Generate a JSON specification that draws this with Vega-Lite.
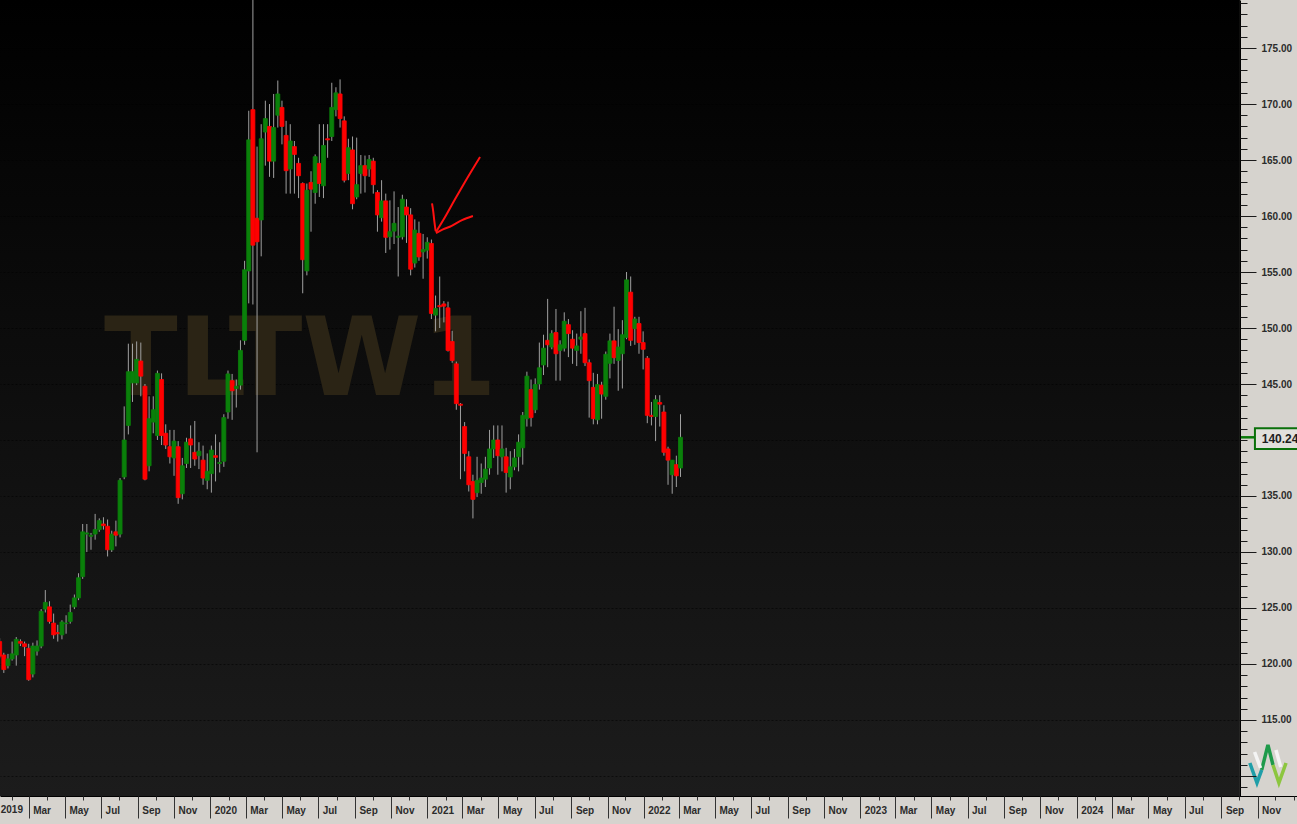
{
  "$schema": "https://vega.github.io/schema/vega-lite/v6.json",
  "width": 1297,
  "height": 796,
  "autosize": {"type": "none"},
  "padding": {"left": 0, "top": 0, "right": 0, "bottom": 28},
  "background": "#d6d3ce",
  "config": {
    "view": {"stroke": null, "fill": {"gradient": "linear", "x1": 0, "y1": 0, "x2": 0, "y2": 1, "stops": [{"offset": 0, "color": "#000000"}, {"offset": 1, "color": "#1c1c1c"}]}},
    "axis": {"labelFont": "Liberation Sans", "labelFontWeight": "bold", "labelColor": "#2b2b2b", "tickColor": "#222222", "domainColor": "#000000"},
    "scale": {"continuousPadding": 0}
  },
  "resolve": {"axis": {"x": "independent", "y": "independent"}},
  "data": {"values": [
    {"d":"2019-01-11","o":122.0,"h":122.3,"l":120.5,"c":120.7},
    {"d":"2019-01-18","o":120.8,"h":121.0,"l":119.2,"c":119.5},
    {"d":"2019-01-25","o":119.85,"h":120.9,"l":119.6,"c":120.45},
    {"d":"2019-02-01","o":120.45,"h":122.0,"l":120.3,"c":120.9},
    {"d":"2019-02-08","o":120.8,"h":122.4,"l":119.85,"c":122.2},
    {"d":"2019-02-15","o":122.0,"h":122.2,"l":121.6,"c":121.85},
    {"d":"2019-02-22","o":121.8,"h":122.0,"l":120.7,"c":121.55},
    {"d":"2019-03-01","o":121.4,"h":121.8,"l":118.5,"c":118.6},
    {"d":"2019-03-08","o":119.1,"h":121.9,"l":118.8,"c":121.6},
    {"d":"2019-03-15","o":121.15,"h":122.1,"l":120.75,"c":121.6},
    {"d":"2019-03-22","o":121.6,"h":124.9,"l":121.4,"c":124.7},
    {"d":"2019-03-29","o":124.9,"h":126.6,"l":124.6,"c":125.5},
    {"d":"2019-04-05","o":125.1,"h":125.6,"l":123.6,"c":123.8},
    {"d":"2019-04-12","o":123.65,"h":124.5,"l":122.25,"c":122.6},
    {"d":"2019-04-19","o":122.8,"h":123.5,"l":122.0,"c":122.7},
    {"d":"2019-04-26","o":122.6,"h":123.9,"l":122.2,"c":123.75},
    {"d":"2019-05-03","o":123.6,"h":124.35,"l":122.7,"c":123.65},
    {"d":"2019-05-10","o":123.8,"h":125.3,"l":123.6,"c":124.6},
    {"d":"2019-05-17","o":125.1,"h":126.2,"l":124.9,"c":125.9},
    {"d":"2019-05-24","o":125.9,"h":128.1,"l":125.7,"c":127.7},
    {"d":"2019-05-31","o":127.8,"h":132.5,"l":127.6,"c":131.8},
    {"d":"2019-06-07","o":131.6,"h":132.5,"l":130.0,"c":131.7},
    {"d":"2019-06-14","o":131.4,"h":131.7,"l":130.2,"c":131.5},
    {"d":"2019-06-21","o":131.6,"h":133.4,"l":131.1,"c":132.0},
    {"d":"2019-06-28","o":132.0,"h":133.0,"l":131.8,"c":132.8},
    {"d":"2019-07-05","o":132.5,"h":133.1,"l":132.0,"c":132.35},
    {"d":"2019-07-12","o":132.3,"h":132.9,"l":129.6,"c":130.2},
    {"d":"2019-07-19","o":130.2,"h":131.9,"l":130.0,"c":131.6},
    {"d":"2019-07-26","o":131.8,"h":132.8,"l":130.5,"c":131.5},
    {"d":"2019-08-02","o":131.6,"h":136.6,"l":131.3,"c":136.4},
    {"d":"2019-08-09","o":136.7,"h":143.0,"l":136.5,"c":140.0},
    {"d":"2019-08-16","o":141.3,"h":148.6,"l":140.5,"c":146.1},
    {"d":"2019-08-23","o":145.1,"h":148.6,"l":143.4,"c":146.1},
    {"d":"2019-08-30","o":145.1,"h":148.8,"l":144.9,"c":147.2},
    {"d":"2019-09-06","o":147.05,"h":148.7,"l":143.9,"c":145.7},
    {"d":"2019-09-13","o":144.8,"h":145.0,"l":136.4,"c":136.5},
    {"d":"2019-09-20","o":137.7,"h":143.9,"l":137.2,"c":141.9},
    {"d":"2019-09-27","o":141.6,"h":143.9,"l":140.6,"c":142.7},
    {"d":"2019-10-04","o":140.4,"h":146.2,"l":140.0,"c":145.95},
    {"d":"2019-10-11","o":145.4,"h":145.95,"l":139.55,"c":140.4},
    {"d":"2019-10-18","o":140.6,"h":141.4,"l":139.2,"c":139.55},
    {"d":"2019-10-25","o":139.4,"h":140.9,"l":137.9,"c":138.5},
    {"d":"2019-11-01","o":138.4,"h":140.9,"l":136.8,"c":139.9},
    {"d":"2019-11-08","o":139.4,"h":139.9,"l":134.3,"c":134.85},
    {"d":"2019-11-15","o":135.2,"h":138.4,"l":134.7,"c":137.7},
    {"d":"2019-11-22","o":137.9,"h":140.2,"l":137.5,"c":139.8},
    {"d":"2019-11-29","o":140.1,"h":141.3,"l":137.5,"c":139.55},
    {"d":"2019-12-06","o":138.9,"h":141.7,"l":137.7,"c":138.3},
    {"d":"2019-12-13","o":138.6,"h":139.8,"l":137.4,"c":139.0},
    {"d":"2019-12-20","o":138.2,"h":139.5,"l":136.0,"c":136.6},
    {"d":"2019-12-27","o":136.4,"h":138.8,"l":135.6,"c":137.2},
    {"d":"2020-01-03","o":137.0,"h":139.5,"l":135.3,"c":139.1},
    {"d":"2020-01-10","o":138.6,"h":140.5,"l":136.3,"c":138.45},
    {"d":"2020-01-17","o":137.9,"h":139.8,"l":137.1,"c":138.0},
    {"d":"2020-01-24","o":138.1,"h":142.3,"l":137.6,"c":142.0},
    {"d":"2020-01-31","o":142.5,"h":146.2,"l":141.9,"c":145.9},
    {"d":"2020-02-07","o":145.3,"h":145.9,"l":141.8,"c":144.4},
    {"d":"2020-02-14","o":144.6,"h":145.4,"l":142.9,"c":144.8},
    {"d":"2020-02-21","o":144.9,"h":148.9,"l":144.5,"c":148.0},
    {"d":"2020-02-28","o":148.9,"h":156.0,"l":148.5,"c":155.2},
    {"d":"2020-03-06","o":155.1,"h":169.4,"l":152.2,"c":166.8},
    {"d":"2020-03-13","o":169.5,"h":179.7,"l":152.1,"c":157.4},
    {"d":"2020-03-20","o":159.8,"h":166.2,"l":138.9,"c":157.7},
    {"d":"2020-03-27","o":159.65,"h":168.2,"l":156.4,"c":166.9},
    {"d":"2020-04-03","o":167.5,"h":170.3,"l":164.5,"c":168.7},
    {"d":"2020-04-10","o":168.0,"h":170.0,"l":163.5,"c":164.9},
    {"d":"2020-04-17","o":164.9,"h":170.9,"l":163.4,"c":167.9},
    {"d":"2020-04-24","o":169.0,"h":172.1,"l":167.9,"c":170.9},
    {"d":"2020-05-01","o":169.7,"h":170.3,"l":166.4,"c":168.0},
    {"d":"2020-05-08","o":167.2,"h":168.5,"l":162.0,"c":164.05},
    {"d":"2020-05-15","o":164.2,"h":168.2,"l":162.0,"c":166.7},
    {"d":"2020-05-22","o":166.2,"h":166.7,"l":162.0,"c":165.5},
    {"d":"2020-05-29","o":164.7,"h":165.2,"l":161.6,"c":163.6},
    {"d":"2020-06-05","o":162.9,"h":163.0,"l":153.1,"c":156.1},
    {"d":"2020-06-12","o":155.1,"h":162.9,"l":154.7,"c":162.3},
    {"d":"2020-06-19","o":163.0,"h":164.0,"l":158.6,"c":162.4},
    {"d":"2020-06-26","o":162.1,"h":165.5,"l":161.1,"c":165.3},
    {"d":"2020-07-03","o":164.7,"h":168.2,"l":161.7,"c":162.9},
    {"d":"2020-07-10","o":162.7,"h":168.2,"l":161.6,"c":166.3},
    {"d":"2020-07-17","o":166.9,"h":168.2,"l":165.2,"c":166.8},
    {"d":"2020-07-24","o":167.1,"h":171.9,"l":166.7,"c":169.7},
    {"d":"2020-07-31","o":169.5,"h":171.5,"l":168.9,"c":171.0},
    {"d":"2020-08-07","o":170.9,"h":172.2,"l":167.9,"c":168.7},
    {"d":"2020-08-14","o":168.5,"h":168.9,"l":163.0,"c":163.2},
    {"d":"2020-08-21","o":163.8,"h":166.9,"l":163.2,"c":166.1},
    {"d":"2020-08-28","o":165.9,"h":167.1,"l":160.6,"c":161.1},
    {"d":"2020-09-04","o":161.7,"h":167.0,"l":161.5,"c":162.8},
    {"d":"2020-09-11","o":163.8,"h":165.45,"l":162.0,"c":164.5},
    {"d":"2020-09-18","o":164.5,"h":165.4,"l":162.1,"c":163.6},
    {"d":"2020-09-25","o":164.2,"h":165.45,"l":163.5,"c":165.05},
    {"d":"2020-10-02","o":164.9,"h":165.2,"l":162.0,"c":162.8},
    {"d":"2020-10-09","o":162.1,"h":162.3,"l":158.6,"c":160.1},
    {"d":"2020-10-16","o":159.85,"h":163.2,"l":159.5,"c":161.35},
    {"d":"2020-10-23","o":161.35,"h":162.0,"l":156.7,"c":158.1},
    {"d":"2020-10-30","o":158.15,"h":161.4,"l":157.0,"c":158.6},
    {"d":"2020-11-06","o":158.65,"h":162.2,"l":157.5,"c":159.35},
    {"d":"2020-11-13","o":158.1,"h":160.8,"l":154.6,"c":158.2},
    {"d":"2020-11-20","o":158.15,"h":161.9,"l":157.9,"c":161.5},
    {"d":"2020-11-27","o":160.8,"h":161.5,"l":157.6,"c":160.1},
    {"d":"2020-12-04","o":160.1,"h":160.7,"l":154.7,"c":155.25},
    {"d":"2020-12-11","o":155.8,"h":159.7,"l":155.4,"c":158.75},
    {"d":"2020-12-18","o":158.45,"h":159.5,"l":156.0,"c":156.35},
    {"d":"2020-12-25","o":156.8,"h":158.4,"l":154.4,"c":157.0},
    {"d":"2021-01-01","o":156.95,"h":158.1,"l":156.2,"c":157.65},
    {"d":"2021-01-08","o":157.55,"h":157.9,"l":150.8,"c":151.3},
    {"d":"2021-01-15","o":151.15,"h":152.9,"l":149.7,"c":151.75},
    {"d":"2021-01-22","o":152.0,"h":154.6,"l":150.0,"c":151.9},
    {"d":"2021-01-29","o":152.15,"h":152.4,"l":150.5,"c":151.95},
    {"d":"2021-02-05","o":151.8,"h":152.35,"l":147.9,"c":148.0},
    {"d":"2021-02-12","o":148.8,"h":149.75,"l":146.9,"c":147.1},
    {"d":"2021-02-19","o":146.8,"h":147.0,"l":142.7,"c":143.25},
    {"d":"2021-02-26","o":143.2,"h":143.3,"l":136.5,"c":143.1},
    {"d":"2021-03-05","o":141.2,"h":141.6,"l":137.2,"c":138.8},
    {"d":"2021-03-12","o":138.5,"h":139.0,"l":135.4,"c":136.0},
    {"d":"2021-03-19","o":136.3,"h":136.9,"l":133.0,"c":134.7},
    {"d":"2021-03-26","o":135.3,"h":138.5,"l":134.9,"c":136.4},
    {"d":"2021-04-02","o":136.2,"h":137.9,"l":135.2,"c":136.6},
    {"d":"2021-04-09","o":136.5,"h":138.5,"l":135.8,"c":137.4},
    {"d":"2021-04-16","o":137.5,"h":140.9,"l":136.9,"c":139.2},
    {"d":"2021-04-23","o":139.2,"h":141.3,"l":138.4,"c":140.0},
    {"d":"2021-04-30","o":140.0,"h":141.3,"l":136.9,"c":138.6},
    {"d":"2021-05-07","o":138.5,"h":141.3,"l":137.2,"c":139.2},
    {"d":"2021-05-14","o":138.5,"h":139.3,"l":135.3,"c":137.1},
    {"d":"2021-05-21","o":136.7,"h":139.0,"l":135.6,"c":137.6},
    {"d":"2021-05-28","o":137.6,"h":139.2,"l":137.3,"c":138.4},
    {"d":"2021-06-04","o":138.5,"h":140.5,"l":137.2,"c":139.8},
    {"d":"2021-06-11","o":139.3,"h":142.5,"l":137.8,"c":142.2},
    {"d":"2021-06-18","o":141.9,"h":146.1,"l":141.2,"c":145.7},
    {"d":"2021-06-25","o":144.5,"h":145.4,"l":141.2,"c":142.0},
    {"d":"2021-07-02","o":142.7,"h":145.5,"l":142.4,"c":144.95},
    {"d":"2021-07-09","o":145.0,"h":148.7,"l":144.5,"c":146.45},
    {"d":"2021-07-16","o":146.7,"h":149.4,"l":145.8,"c":148.2},
    {"d":"2021-07-23","o":148.9,"h":152.6,"l":146.5,"c":148.5},
    {"d":"2021-07-30","o":148.3,"h":149.8,"l":148.1,"c":149.5},
    {"d":"2021-08-06","o":149.6,"h":151.7,"l":145.3,"c":147.7},
    {"d":"2021-08-13","o":148.0,"h":148.9,"l":145.3,"c":148.5},
    {"d":"2021-08-20","o":148.2,"h":151.4,"l":147.9,"c":150.6},
    {"d":"2021-08-27","o":150.3,"h":150.8,"l":147.4,"c":149.5},
    {"d":"2021-09-03","o":149.0,"h":149.8,"l":146.8,"c":148.2},
    {"d":"2021-09-10","o":148.0,"h":149.5,"l":146.6,"c":148.4},
    {"d":"2021-09-17","o":149.0,"h":151.5,"l":147.7,"c":149.2},
    {"d":"2021-09-24","o":149.5,"h":151.8,"l":146.6,"c":146.9},
    {"d":"2021-10-01","o":146.9,"h":147.2,"l":142.0,"c":145.3},
    {"d":"2021-10-08","o":144.7,"h":146.0,"l":141.4,"c":141.9},
    {"d":"2021-10-15","o":141.8,"h":145.9,"l":141.4,"c":144.95},
    {"d":"2021-10-22","o":144.9,"h":145.2,"l":141.9,"c":144.1},
    {"d":"2021-10-29","o":143.9,"h":147.9,"l":143.6,"c":147.65},
    {"d":"2021-11-05","o":146.85,"h":149.5,"l":145.5,"c":148.85},
    {"d":"2021-11-12","o":148.85,"h":151.9,"l":146.8,"c":147.35},
    {"d":"2021-11-19","o":147.1,"h":149.9,"l":144.4,"c":148.3},
    {"d":"2021-11-26","o":147.7,"h":150.7,"l":144.6,"c":149.4},
    {"d":"2021-12-03","o":149.15,"h":155.0,"l":149.0,"c":154.3},
    {"d":"2021-12-10","o":153.2,"h":154.6,"l":148.4,"c":148.9},
    {"d":"2021-12-17","o":149.95,"h":151.0,"l":148.5,"c":150.8},
    {"d":"2021-12-24","o":150.4,"h":151.0,"l":147.7,"c":148.7},
    {"d":"2021-12-31","o":148.7,"h":149.7,"l":146.3,"c":148.1},
    {"d":"2022-01-07","o":147.3,"h":147.5,"l":141.5,"c":142.2},
    {"d":"2022-01-14","o":142.2,"h":143.4,"l":141.3,"c":142.1},
    {"d":"2022-01-21","o":142.1,"h":144.0,"l":139.9,"c":143.6},
    {"d":"2022-01-28","o":143.35,"h":144.0,"l":141.2,"c":143.2},
    {"d":"2022-02-04","o":142.5,"h":143.1,"l":138.6,"c":138.9},
    {"d":"2022-02-11","o":139.2,"h":139.4,"l":136.0,"c":138.2},
    {"d":"2022-02-18","o":136.9,"h":138.2,"l":135.2,"c":138.2},
    {"d":"2022-02-25","o":137.8,"h":138.6,"l":135.8,"c":136.8},
    {"d":"2022-03-04","o":137.5,"h":142.3,"l":136.7,"c":140.24}
  ]},
  "layer": [
    {
      "data": {"values": [{}]},
      "mark": {"type": "rect", "color": "#d6d3ce"},
      "encoding": {
        "x": {"datum": {"year": 2024, "month": 10, "date": 2, "hours": 7, "utc": true}, "type": "temporal",
          "scale": {"type": "utc", "padding": 0, "domain": [{"year": 2019, "month": 1, "date": 11, "hours": 14, "utc": true}, {"year": 2025, "month": 1, "date": 6, "hours": 12, "utc": true}]},
          "axis": {"orient": "bottom", "title": null, "grid": false, "zindex": 1,
            "values": [
              {"year":2019,"month":3,"date":1,"utc":true},{"year":2019,"month":5,"date":1,"utc":true},{"year":2019,"month":7,"date":1,"utc":true},{"year":2019,"month":9,"date":1,"utc":true},{"year":2019,"month":11,"date":1,"utc":true},
              {"year":2020,"month":1,"date":1,"utc":true},{"year":2020,"month":3,"date":1,"utc":true},{"year":2020,"month":5,"date":1,"utc":true},{"year":2020,"month":7,"date":1,"utc":true},{"year":2020,"month":9,"date":1,"utc":true},{"year":2020,"month":11,"date":1,"utc":true},
              {"year":2021,"month":1,"date":1,"utc":true},{"year":2021,"month":3,"date":1,"utc":true},{"year":2021,"month":5,"date":1,"utc":true},{"year":2021,"month":7,"date":1,"utc":true},{"year":2021,"month":9,"date":1,"utc":true},{"year":2021,"month":11,"date":1,"utc":true},
              {"year":2022,"month":1,"date":1,"utc":true},{"year":2022,"month":3,"date":1,"utc":true},{"year":2022,"month":5,"date":1,"utc":true},{"year":2022,"month":7,"date":1,"utc":true},{"year":2022,"month":9,"date":1,"utc":true},{"year":2022,"month":11,"date":1,"utc":true},
              {"year":2023,"month":1,"date":1,"utc":true},{"year":2023,"month":3,"date":1,"utc":true},{"year":2023,"month":5,"date":1,"utc":true},{"year":2023,"month":7,"date":1,"utc":true},{"year":2023,"month":9,"date":1,"utc":true},{"year":2023,"month":11,"date":1,"utc":true},
              {"year":2024,"month":1,"date":1,"utc":true},{"year":2024,"month":3,"date":1,"utc":true},{"year":2024,"month":5,"date":1,"utc":true},{"year":2024,"month":7,"date":1,"utc":true},{"year":2024,"month":9,"date":1,"utc":true},{"year":2024,"month":11,"date":1,"utc":true}
            ],
            "tickSize": 22, "tickWidth": 1, "tickColor": "#333333",
            "labelExpr": "utcmonth(datum.value) == 0 ? utcFormat(datum.value, '%Y') : utcFormat(datum.value, '%b')",
            "labelAlign": "left", "labelBaseline": "middle", "labelPadding": -8, "labelOffset": 4, "labelFontSize": 10,
            "labelFlush": false, "labelOverlap": false, "labelBound": false,
            "domain": true, "domainColor": "#000000", "domainWidth": 1}},
        "x2": {"datum": {"year": 2025, "month": 1, "date": 6, "hours": 12, "utc": true}},
        "y": {"datum": 179.29, "type": "quantitative",
          "scale": {"domain": [108.21, 179.29], "nice": false, "zero": false, "padding": 0},
          "axis": {"orient": "right", "offset": -57, "title": null, "values": [110,115,120,125,130,135,140,145,150,155,160,165,170,175],
            "grid": true, "gridColor": "#000000", "gridDash": [2, 2], "gridWidth": 1, "gridOpacity": 0.55,
            "ticks": false, "labels": false, "domain": false, "zindex": 0}},
        "y2": {"datum": 108.21}
      }
    },
    {
      "data": {"values": [{}]},
      "mark": {"type": "text", "font": "Liberation Sans", "fontWeight": "bold", "fontSize": 10, "align": "left", "baseline": "middle", "dx": 7, "color": "#2b2b2b"},
      "encoding": {
        "x": {"datum": {"year": 2019, "month": 1, "date": 1, "utc": true}, "type": "temporal", "axis": null},
        "y": {"datum": 106.96, "type": "quantitative", "axis": null},
        "text": {"value": "2019"}
      }
    },
    {
      "data": {"values": [{}]},
      "mark": {"type": "text", "font": "DejaVu Sans", "fontWeight": "bold", "fontSize": 108, "align": "center", "baseline": "alphabetic", "color": "#2b2415"},
      "encoding": {
        "x": {"datum": {"year": 2020, "month": 6, "date": 1, "utc": true}, "type": "temporal", "axis": null},
        "y": {"datum": 144.02, "type": "quantitative", "axis": null},
        "text": {"value": "TLTW1"}
      }
    },
    {
      "mark": {"type": "rule", "color": "#a0a0a0", "strokeWidth": 1},
      "encoding": {
        "x": {"field": "d", "type": "temporal",
          "axis": {"orient": "bottom", "title": null, "tickCount": {"interval": "month", "step": 1}, "tickSize": 4, "tickColor": "#333333", "labels": false, "domain": false, "grid": false, "zindex": 1}},
        "y": {"field": "l", "type": "quantitative",
          "axis": {"orient": "right", "offset": -57, "title": null, "values": [110,115,120,125,130,135,145,150,155,160,165,170,175],
            "labelExpr": "datum.value == 110 ? '' : format(datum.value, '.2f')",
            "tickSize": 16, "tickColor": "#1a1a1a", "tickWidth": 1, "labelFontSize": 10, "labelPadding": 5,
            "labelAlign": "left", "labelBaseline": "middle", "labelOverlap": false, "labelFlush": false, "labelBound": false,
            "domain": true, "domainColor": "#000000", "domainWidth": 1, "grid": false, "zindex": 1}},
        "y2": {"field": "h"}
      }
    },
    {
      "mark": {"type": "bar", "width": 4, "strokeWidth": 0.8},
      "encoding": {
        "x": {"field": "d", "type": "temporal", "axis": null},
        "y": {"field": "o", "type": "quantitative",
          "axis": {"orient": "right", "offset": -57, "title": null,
            "values": [109,110,111,112,113,114,115,116,117,118,119,120,121,122,123,124,125,126,127,128,129,130,131,132,133,134,135,136,137,138,139,140,141,142,143,144,145,146,147,148,149,150,151,152,153,154,155,156,157,158,159,160,161,162,163,164,165,166,167,168,169,170,171,172,173,174,175,176,177,178,179],
            "tickSize": 7, "tickColor": "#1a1a1a", "labels": false, "domain": false, "grid": false, "zindex": 1}},
        "y2": {"field": "c"},
        "fill": {"condition": {"test": "datum.c >= datum.o", "value": "#0a800a"}, "value": "#ff0000"},
        "stroke": {"condition": {"test": "datum.c >= datum.o", "value": "#0a800a"}, "value": "#ff0000"}
      }
    },
    {
      "data": {"values": [
        {"s":"a","i":0,"t":"2021-01-09T00:00:00Z","p":161.13},
        {"s":"a","i":1,"t":"2021-01-11T04:00:00Z","p":160.38},
        {"s":"a","i":2,"t":"2021-01-13T00:00:00Z","p":159.49},
        {"s":"a","i":3,"t":"2021-01-15T04:00:00Z","p":158.66},
        {"s":"b","i":0,"t":"2021-01-15T16:00:00Z","p":158.57},
        {"s":"b","i":1,"t":"2021-01-31T00:00:00Z","p":159.91},
        {"s":"b","i":2,"t":"2021-02-17T00:00:00Z","p":161.52},
        {"s":"b","i":3,"t":"2021-03-05T14:00:00Z","p":163.04},
        {"s":"b","i":4,"t":"2021-03-31T00:00:00Z","p":165.27},
        {"s":"c","i":0,"t":"2021-01-15T16:00:00Z","p":158.48},
        {"s":"c","i":1,"t":"2021-01-27T12:00:00Z","p":158.81},
        {"s":"c","i":2,"t":"2021-02-08T00:00:00Z","p":159.04},
        {"s":"c","i":3,"t":"2021-02-28T14:00:00Z","p":159.64},
        {"s":"c","i":4,"t":"2021-03-19T00:00:00Z","p":160.0}
      ]},
      "mark": {"type": "line", "color": "#ff1010", "strokeWidth": 2, "interpolate": "monotone"},
      "encoding": {
        "x": {"field": "t", "type": "temporal", "axis": null},
        "y": {"field": "p", "type": "quantitative", "axis": null},
        "detail": {"field": "s"},
        "order": {"field": "i"}
      }
    },
    {
      "data": {"values": [{}]},
      "mark": {"type": "rule", "color": "#0a7a0a", "strokeWidth": 2.5},
      "encoding": {
        "x": {"datum": {"year": 2024, "month": 10, "date": 2, "hours": 7, "utc": true}, "type": "temporal", "axis": null},
        "x2": {"datum": {"year": 2024, "month": 10, "date": 27, "hours": 14, "utc": true}},
        "y": {"datum": 140.24, "type": "quantitative", "axis": null}
      }
    },
    {
      "data": {"values": [{}]},
      "mark": {"type": "rect", "fill": "#e2e0dc", "stroke": "#0a700a", "strokeWidth": 2},
      "encoding": {
        "x": {"datum": {"year": 2024, "month": 10, "date": 27, "hours": 14, "utc": true}, "type": "temporal", "axis": null},
        "x2": {"datum": {"year": 2025, "month": 2, "date": 1, "utc": true}},
        "y": {"datum": 141.05, "type": "quantitative", "axis": null},
        "y2": {"datum": 139.2}
      }
    },
    {
      "data": {"values": [{}]},
      "mark": {"type": "text", "font": "Liberation Sans", "fontWeight": "bold", "fontSize": 12, "align": "left", "baseline": "middle", "color": "#1e1e1e"},
      "encoding": {
        "x": {"datum": {"year": 2024, "month": 11, "date": 8, "utc": true}, "type": "temporal", "axis": null},
        "y": {"datum": 140.13, "type": "quantitative", "axis": null},
        "text": {"value": "140.24"}
      }
    },
    {
      "data": {"values": [
        {"s":"l1","i":0,"t":"2024-10-19T00:00:00Z","p":111.16},
        {"s":"l1","i":1,"t":"2024-10-31T00:00:00Z","p":109.38},
        {"s":"l1","i":2,"t":"2024-11-08T00:00:00Z","p":110.54},
        {"s":"l2","i":0,"t":"2024-11-08T00:00:00Z","p":110.54},
        {"s":"l2","i":1,"t":"2024-11-18T12:00:00Z","p":112.77},
        {"s":"l2","i":2,"t":"2024-11-27T00:00:00Z","p":110.98},
        {"s":"l3","i":0,"t":"2024-11-27T00:00:00Z","p":110.98},
        {"s":"l3","i":1,"t":"2024-12-07T00:00:00Z","p":109.38},
        {"s":"l3","i":2,"t":"2024-12-19T00:00:00Z","p":111.16},
        {"s":"l4","i":0,"t":"2024-10-27T00:00:00Z","p":112.14},
        {"s":"l4","i":1,"t":"2024-11-06T00:00:00Z","p":110.71},
        {"s":"l5","i":0,"t":"2024-12-02T00:00:00Z","p":112.32},
        {"s":"l5","i":1,"t":"2024-12-10T00:00:00Z","p":110.8}
      ]},
      "mark": {"type": "line", "strokeWidth": 3.5},
      "encoding": {
        "x": {"field": "t", "type": "temporal", "axis": null},
        "y": {"field": "p", "type": "quantitative", "axis": null},
        "detail": {"field": "s"},
        "order": {"field": "i"},
        "color": {"field": "s", "type": "nominal", "legend": null,
          "scale": {"domain": ["l1","l2","l3","l4","l5"], "range": ["#1f9ea8","#1e9a4a","#8cc63f","#f4f4f4","#f4f4f4"]}}
      }
    }
  ]
}
